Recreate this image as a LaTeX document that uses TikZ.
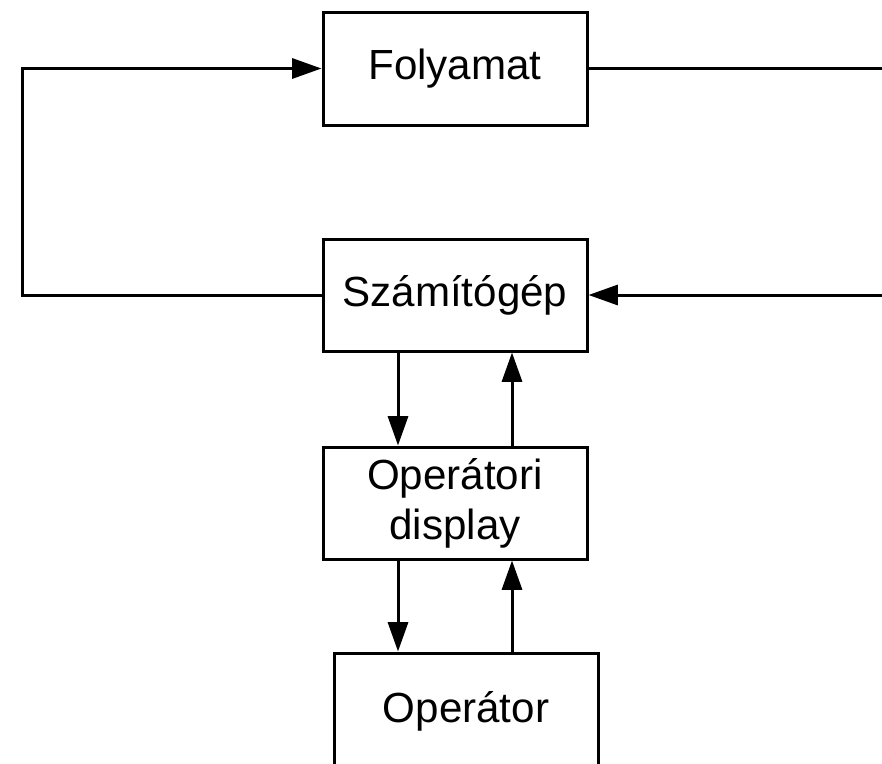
\documentclass[tikz,border=0pt]{standalone}
\usepackage{fontspec}
\setmainfont{Liberation Sans}
\usetikzlibrary{arrows.meta}
\begin{document}
\begin{tikzpicture}[x=0.75pt,y=-0.75pt,
  blk/.style={draw, line width=2.25pt, rectangle, inner sep=0pt,
    minimum width=198pt, font=\fontsize{31.6}{37.4}\selectfont, align=center},
  lbl/.style={inner sep=0pt, font=\fontsize{31.6}{37.4}\selectfont},
  conn/.style={line width=2.25pt},
  arr/.style={conn, -{Triangle[length=22pt,width=15pt]}}]
\clip (0,0) rectangle (882,764);

% blocks
\node[blk, minimum height=84.75pt] (fo) at (455,68.5) {Folyamat};
\node[blk, minimum height=84pt] (sz) at (455,295) {Számítógép};
\node[blk, minimum height=84pt] (di) at (455,503) {Operátori\\display};
\node[blk, minimum height=120pt] (op) at (466,733) {};
\node[lbl] (opt) at (466,711) {Operátor};

% helper columns
\coordinate (lc) at (22,0);
\coordinate (rc) at (900,0);
\coordinate (dn) at (398,0);
\coordinate (up) at (512,0);

% outer loop
\draw[arr] (sz.west) -- (sz.west -| lc) -- (fo.west -| lc) -- (fo.west);
\draw[conn] (fo.east) -- (fo.east -| rc);
\draw[arr] (sz.east -| rc) -- (sz.east);

% computer <-> display
\draw[arr] (sz.south -| dn) -- (di.north -| dn);
\draw[arr] (di.north -| up) -- (sz.south -| up);

% display <-> operator
\draw[arr] (di.south -| dn) -- (op.north -| dn);
\draw[arr] (op.north -| up) -- (di.south -| up);
\end{tikzpicture}
\end{document}
